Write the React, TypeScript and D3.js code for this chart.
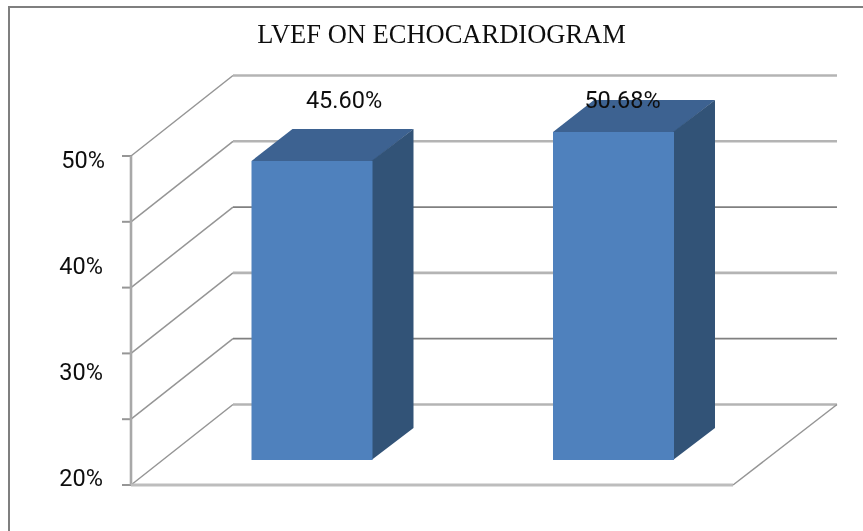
import * as d3 from 'd3';

const title = 'LVEF ON ECHOCARDIOGRAM';
const barValues = [45.6, 50.68];
const barLabels = ['45.60%', '50.68%'];
const barSlots = ['a', 'b'];
const gridValues = [20, 26, 32, 38, 44, 50];
const tickLabels = [20, 30, 40, 50];

const WIDTH = 863;
const HEIGHT = 531;

const SANS = 'Roboto, "Open Sans", sans-serif';
const SERIF = '"Liberation Serif", serif';

const depth = { dx: 102, dy: -80.5 };
const barDepth = { dx: 41, dy: -32 };

// the picture's axis labels and gridlines are not evenly tied, so each has its own scale
const yGrid = d3.scaleLinear().domain([20, 50]).range([485, 156]);
const yLabel = d3.scaleLinear().domain([20, 50]).range([478, 160]);
const yBar = d3.scaleLinear().domain([45.6, 50.68]).range([161, 132]);
const barBase = 460;

const xBar = d3.scaleOrdinal<string, number>().domain(barSlots).range([251.5, 553]);
const xLabel = d3.scaleOrdinal<string, number>().domain(barSlots).range([344, 622.5]);
const x0 = 131;
const x1 = 733;

const line = d3.line();

export default function App() {
  const bw = 121;
  return (
    <svg width={WIDTH} height={HEIGHT} style={{ position: 'absolute', left: 0, top: 0, background: '#fff' }}>
      <defs>
        <filter id="soft" x="-5%" y="-5%" width="110%" height="110%">
          <feGaussianBlur stdDeviation="0.6" />
        </filter>
        <filter id="softText" x="-5%" y="-10%" width="110%" height="120%">
          <feGaussianBlur stdDeviation="0.3" />
        </filter>
      </defs>

      <path d={`M9,${HEIGHT}V7H${WIDTH}`} fill="none" stroke="#7f7f7f" strokeWidth={2} filter="url(#softText)" />

      <g filter="url(#soft)">
        {/* Grid walls */}
        {gridValues.map((v, i) => {
          const y = yGrid(v);
          const wide = i % 2 === 0 || i === 5;
          return (
            <g key={v}>
              <path
                d={line([[x0, y], [x0 + depth.dx, y + depth.dy]]) ?? ''}
                fill="none"
                stroke="#959595"
                strokeWidth={1.5}
              />
              <line
                x1={x0 + depth.dx}
                x2={x1 + depth.dx + 2}
                y1={y + depth.dy}
                y2={y + depth.dy}
                stroke={wide ? '#b4b4b4' : '#808080'}
                strokeWidth={wide ? 2.6 : 1.7}
              />
              <line x1={122} x2={x0} y1={y} y2={y} stroke="#969696" strokeWidth={2} />
            </g>
          );
        })}

        {/* Axis and floor */}
        <line x1={x0} x2={x0} y1={yGrid(50)} y2={yGrid(20)} stroke="#a8a8a8" strokeWidth={2.6} />
        <line x1={x0} x2={x1} y1={yGrid(20)} y2={yGrid(20)} stroke="#bdbdbd" strokeWidth={3} />
        <path
          d={line([[x1, yGrid(20)], [x1 + depth.dx + 2, yGrid(20) + depth.dy]]) ?? ''}
          fill="none"
          stroke="#959595"
          strokeWidth={1.5}
        />

        {/* Bars */}
        {barValues.map((v, i) => {
          const x = xBar(barSlots[i]);
          const top = yBar(v);
          return (
            <g key={barSlots[i]}>
              <path
                d={(line([
                  [x, top],
                  [x + barDepth.dx, top + barDepth.dy],
                  [x + bw + barDepth.dx, top + barDepth.dy],
                  [x + bw, top],
                ]) ?? '') + 'Z'}
                fill="#3c6291"
              />
              <path
                d={(line([
                  [x + bw - 1, top],
                  [x + bw + barDepth.dx, top + barDepth.dy],
                  [x + bw + barDepth.dx, barBase + barDepth.dy],
                  [x + bw - 1, barBase],
                ]) ?? '') + 'Z'}
                fill="#325277"
              />
              <rect x={x} y={top} width={bw} height={barBase - top} fill="#4f81bd" />
            </g>
          );
        })}
      </g>

      {/* Text */}
      <g filter="url(#softText)">
        <text x={441.5} y={43} textAnchor="middle" fontFamily={SERIF} fontSize={26.5} fill="#111">
          {title}
        </text>
        {barLabels.map((label, i) => (
          <text
            key={label}
            x={xLabel(barSlots[i])}
            y={108}
            textAnchor="middle"
            fontFamily={SANS}
            fontSize={23.5}
            fill="#111"
          >
            {label}
          </text>
        ))}
        {tickLabels.map(t => (
          <text
            key={t}
            x={t === 50 ? 105 : 103}
            y={yLabel(t) + 8}
            textAnchor="end"
            fontFamily={SANS}
            fontSize={23.5}
            fill="#111"
          >
            {t}%
          </text>
        ))}
      </g>
    </svg>
  );
}
